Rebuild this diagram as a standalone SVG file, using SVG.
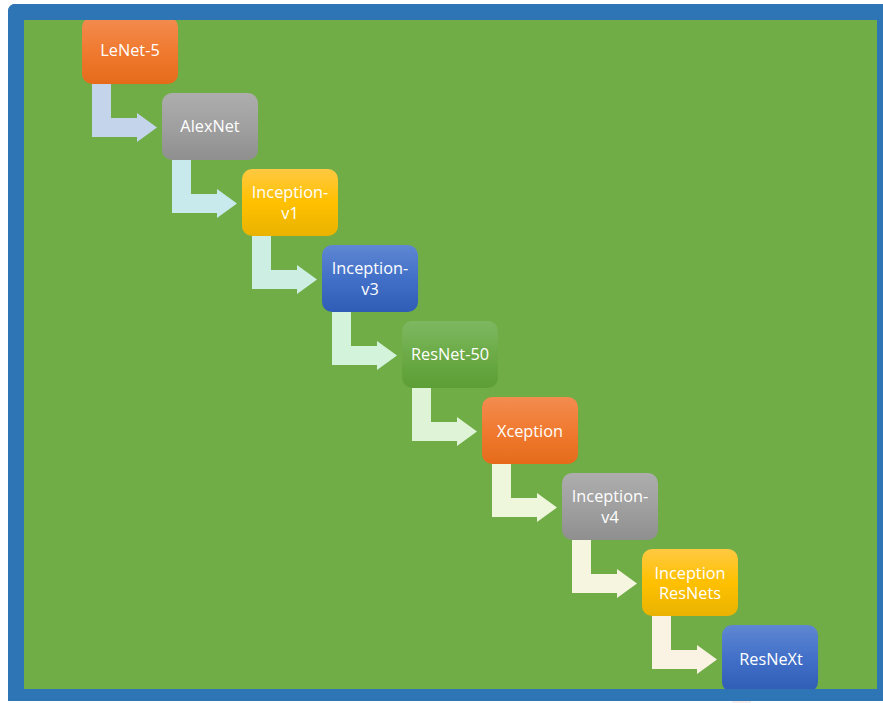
<svg xmlns="http://www.w3.org/2000/svg" width="883" height="703" viewBox="0 0 883 703">
<defs>
<linearGradient id="gOrange" x1="0" y1="0" x2="0" y2="1"><stop offset="0" stop-color="#f38c50"/><stop offset="0.5" stop-color="#f07a30"/><stop offset="1" stop-color="#e56b1a"/></linearGradient>
<linearGradient id="gGray" x1="0" y1="0" x2="0" y2="1"><stop offset="0" stop-color="#adadad"/><stop offset="0.5" stop-color="#a0a0a0"/><stop offset="1" stop-color="#8f8f8f"/></linearGradient>
<linearGradient id="gGold" x1="0" y1="0" x2="0" y2="1"><stop offset="0" stop-color="#ffc942"/><stop offset="0.5" stop-color="#ffc000"/><stop offset="1" stop-color="#e9b300"/></linearGradient>
<linearGradient id="gBlue" x1="0" y1="0" x2="0" y2="1"><stop offset="0" stop-color="#5f87d2"/><stop offset="0.5" stop-color="#4270c8"/><stop offset="1" stop-color="#2f5db6"/></linearGradient>
<linearGradient id="gGreen" x1="0" y1="0" x2="0" y2="1"><stop offset="0" stop-color="#7db862"/><stop offset="0.5" stop-color="#6cab47"/><stop offset="1" stop-color="#5d9e36"/></linearGradient>
</defs>
<style>
text{font-family:"Open Sans","Liberation Sans",sans-serif;font-size:16.3px;fill:#ffffff;text-anchor:middle}
.arr{stroke:none}
</style>
<rect x="8" y="4" width="890" height="697" rx="7" fill="#2e75b6"/>
<rect x="24" y="20" width="853" height="669" fill="#70ad47"/>
<g id="connectors">
<path class="arr" fill="#c4d4eb" d="M92,83H111V118H137V113L157,127.5L137,142V137H92Z"/>
<path class="arr" fill="#c8eaec" transform="translate(80,76)" d="M92,83H111V118H137V113L157,127.5L137,142V137H92Z"/>
<path class="arr" fill="#cdeee3" transform="translate(160,152)" d="M92,83H111V118H137V113L157,127.5L137,142V137H92Z"/>
<path class="arr" fill="#d3f3db" transform="translate(240,228)" d="M92,83H111V118H137V113L157,127.5L137,142V137H92Z"/>
<path class="arr" fill="#dff4d6" transform="translate(320,304)" d="M92,83H111V118H137V113L157,127.5L137,142V137H92Z"/>
<path class="arr" fill="#eef6dc" transform="translate(400,380)" d="M92,83H111V118H137V113L157,127.5L137,142V137H92Z"/>
<path class="arr" fill="#f5f5e0" transform="translate(480,456)" d="M92,83H111V118H137V113L157,127.5L137,142V137H92Z"/>
<path class="arr" fill="#faf3e4" transform="translate(560,532)" d="M92,83H111V118H137V113L157,127.5L137,142V137H92Z"/>
<path class="arr" fill="#fbede9" transform="translate(640,608)" d="M92,83H111V118H137V113L157,127.5L137,142V137H92Z"/>
</g>
<g id="n1"><rect x="82" y="17" width="96" height="67" rx="10" fill="url(#gOrange)"/><text x="130" y="56">LeNet-5</text></g>
<g id="n2"><rect x="162" y="93" width="96" height="67" rx="10" fill="url(#gGray)"/><text x="210" y="132">AlexNet</text></g>
<g id="n3"><rect x="242" y="169" width="96" height="67" rx="10" fill="url(#gGold)"/><text x="290" y="198">Inception-</text><text x="290" y="219">v1</text></g>
<g id="n4"><rect x="322" y="245" width="96" height="67" rx="10" fill="url(#gBlue)"/><text x="370" y="274">Inception-</text><text x="370" y="295">v3</text></g>
<g id="n5"><rect x="402" y="321" width="96" height="67" rx="10" fill="url(#gGreen)"/><text x="450" y="360">ResNet-50</text></g>
<g id="n6"><rect x="482" y="397" width="96" height="67" rx="10" fill="url(#gOrange)"/><text x="530" y="437">Xception</text></g>
<g id="n7"><rect x="562" y="473" width="96" height="67" rx="10" fill="url(#gGray)"/><text x="610" y="502">Inception-</text><text x="610" y="523">v4</text></g>
<g id="n8"><rect x="642" y="549" width="96" height="67" rx="10" fill="url(#gGold)"/><text x="690" y="579">Inception</text><text x="690" y="599">ResNets</text></g>
<g id="n9"><rect x="722" y="625" width="96" height="67" rx="10" fill="url(#gBlue)"/><text x="771" y="665">ResNeXt</text></g>
<rect x="8" y="4" width="890" height="16" fill="#2e75b6" rx="7"/>
<rect x="8" y="689" width="890" height="12" fill="#2e75b6"/>
<rect x="877" y="4" width="20" height="697" fill="#2e75b6"/>
</svg>
